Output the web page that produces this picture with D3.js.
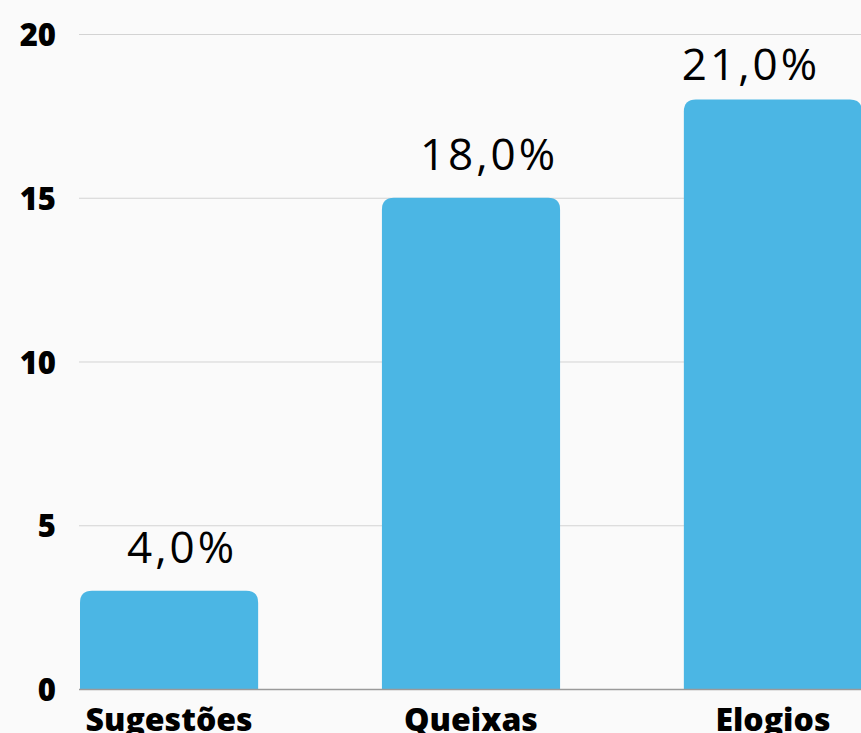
<!DOCTYPE html>
<html>
<head>
<meta charset="utf-8">
<script src="https://cdn.jsdelivr.net/npm/d3@7"></script>
<style>
  html, body { margin: 0; padding: 0; background: #fafafa; overflow: hidden; }
</style>
</head>
<body>
<div id="chart"></div>
<script>
/* chart data */
var categories = ["Sugestões", "Queixas", "Elogios"];
var values = [3, 15, 18];
var valueLabels = ["4,0%", "18,0%", "21,0%"];
var yTicks = [0, 5, 10, 15, 20];

/* size and style parameters */
var width = 861;
var height = 733;
var barColor = '#4bb6e4';
var radius = 12;
var labelNudge = [13, 18, -22]; // horizontal shift of the value labels

var svg = d3.select("#chart")
  .append('svg')
    .attr('width', width)
    .attr('height', height)
    .style('display', 'block');

var x = d3.scaleBand()
  .domain(categories)
  .range([80, 862])
  .paddingInner(0.41)
  .paddingOuter(0);

var y = d3.scaleLinear()
  .domain([0, 20])
  .range([689, 34]);

/* grid lines */
svg.selectAll("line.grid")
  .data(yTicks.filter(function(d) { return d > 0; }))
  .enter().append("line")
    .attr("class", "grid")
    .attr("x1", 79)
    .attr("x2", width)
    .attr("y1", function(d) { return y(d) + 0.5; })
    .attr("y2", function(d) { return y(d) + 0.5; })
    .style("stroke", "#d3d3d3")
    .style("stroke-width", 1);

/* y tick labels */
svg.selectAll("text.ytick")
  .data(yTicks)
  .enter().append("text")
    .attr("class", "ytick")
    .attr("x", 56)
    .attr("y", function(d) { return y(d); })
    .attr("text-anchor", "end")
    .attr("dominant-baseline", "central")
    .style("font-family", "'Open Sans', sans-serif")
    .style("font-weight", 800)
    .style("font-size", "31px")
    .style("fill", "#000")
    .text(function(d) { return d; });

/* bars with rounded top corners */
function barPath(x0, y0, w, h, r) {
  return "M" + x0 + "," + (y0 + h) +
    "V" + (y0 + r) +
    "Q" + x0 + "," + y0 + " " + (x0 + r) + "," + y0 +
    "H" + (x0 + w - r) +
    "Q" + (x0 + w) + "," + y0 + " " + (x0 + w) + "," + (y0 + r) +
    "V" + (y0 + h) + "Z";
}

svg.selectAll("path.bar")
  .data(values)
  .enter().append("path")
    .attr("class", "bar")
    .attr("d", function(d, i) {
      var top = y(d);
      return barPath(x(categories[i]), top, x.bandwidth(), y(0) - top, radius);
    })
    .style("fill", barColor);

/* baseline */
svg.append("line")
  .attr("x1", 79)
  .attr("x2", width)
  .attr("y1", y(0) + 0.5)
  .attr("y2", y(0) + 0.5)
  .style("stroke", "#9a9a9a")
  .style("stroke-width", 1.5);

/* value labels */
svg.selectAll("text.value")
  .data(values)
  .enter().append("text")
    .attr("class", "value")
    .attr("x", function(d, i) { return x(categories[i]) + x.bandwidth() / 2 + labelNudge[i]; })
    .attr("y", function(d) { return Math.max(y(d) - 28, 80); })
    .attr("text-anchor", "middle")
    .style("font-family", "'Open Sans', sans-serif")
    .style("font-size", "44px")
    .style("letter-spacing", "3px")
    .style("fill", "#000")
    .text(function(d, i) { return valueLabels[i]; });

/* category labels */
svg.selectAll("text.cat")
  .data(categories)
  .enter().append("text")
    .attr("class", "cat")
    .attr("x", function(d) { return x(d) + x.bandwidth() / 2; })
    .attr("y", 731)
    .attr("text-anchor", "middle")
    .style("font-family", "'Open Sans', sans-serif")
    .style("font-weight", 800)
    .style("font-size", "32px")
    .style("fill", "#000")
    .text(function(d) { return d; });
</script>
</body>
</html>
